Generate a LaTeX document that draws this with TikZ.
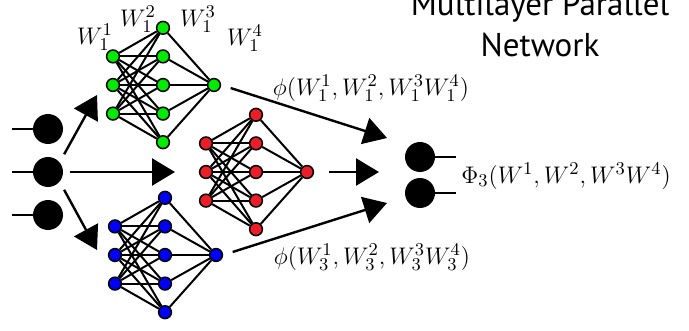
\documentclass[tikz,border=0pt]{standalone}
\usepackage{fontspec}
\newfontfamily\titlefont{PT Sans}
\usepackage{tikz}
\usetikzlibrary{arrows.meta,positioning}
\definecolor{nngreen}{RGB}{0,235,0}
\definecolor{nnred}{RGB}{235,30,40}
\definecolor{nnblue}{RGB}{0,0,245}

\begin{document}
\begin{tikzpicture}[
      x=0.5pt, y=-0.5pt,
      neuron/.style={circle, draw=black, line width=0.75pt, minimum size=6.4pt, inner sep=0pt},
      unit/.style={circle, fill=black, minimum size=15pt, inner sep=0pt},
      edge/.style={line width=1pt, black},
      stub/.style={line width=1.2pt, black},
      arrow/.style={-{Triangle[length=11.5pt,width=13.5pt]}, line width=1.2pt, black},
      lbl/.style={inner sep=0pt, font=\fontsize{12.5}{15}\selectfont},
    ]
    \useasboundingbox (0,0) rectangle (689,331);

    % the three small networks
    \foreach \n/\c/\x/\y in {g/nngreen/113/85, r/nnred/206/172, b/nnblue/115/255}{
      \foreach \i in {1,2,3}
        \node[neuron, fill=\c] (\n1-\i) at (\x, \y+28.6*\i-57.2) {};
      \foreach \j in {1,...,5}
        \node[neuron, fill=\c] (\n2-\j) at (\x+50, \y+28.6*\j-85.8) {};
      \node[neuron, fill=\c] (\n3) at (\x+101, \y) {};
      \foreach \i in {1,2,3}
        \foreach \j in {1,...,5}
          \draw[edge] (\n1-\i) -- (\n2-\j);
      \foreach \j in {1,...,5}
        \draw[edge] (\n2-\j) -- (\n3);
    }

    % inputs and outputs
    \foreach \i/\y in {1/129, 2/172, 3/215}{
      \node[unit] (in\i) at (48,\y) {};
      \coordinate (s\i) at (12,\y);
      \draw[stub] (s\i) -- (in\i);
    }
    \foreach \i/\y in {1/157, 2/193}{
      \node[unit] (out\i) at (420,\y) {};
      \coordinate (e\i) at (456,\y);
      \draw[stub] (out\i) -- (e\i);
    }

    \coordinate (tg) at (97,95);
    \coordinate (tr) at (175,172);
    \coordinate (tb) at (97,250);
    \coordinate (og) at (387,138);
    \coordinate (or) at (379,172);
    \coordinate (ob) at (387,203);

    \draw[arrow, shorten <=4.5pt] (in2.40) -- (tg);
    \draw[arrow, shorten <=3.5pt] (in2) -- (tr);
    \draw[arrow, shorten <=4.5pt] (in2.-40) -- (tb);
    \draw[arrow, shorten <=5pt] (g3.east) -- (og);
    \draw[arrow, shorten <=7.5pt] (r3.east) -- (or);
    \draw[arrow, shorten <=5pt] (b3.east) -- (ob);

    % labels
    \node[lbl] (w1) at (95,37) {$W_1^1$};
    \node[lbl] (w2) at (138,19) {$W_1^2$};
    \node[lbl] (w3) at (198,19) {$W_1^3$};
    \node[lbl] (w4) at (245,38) {$W_1^4$};
    \node[lbl] (phig) at (371,88) {$\phi(W_1^1,W_1^2,W_1^3W_1^4)$};
    \node[lbl] (phib) at (372,257) {$\phi(W_3^1,W_3^2,W_3^3W_3^4)$};
    \node[lbl, anchor=west, font=\fontsize{13}{15}\selectfont] (phiout) at (461,176)
      {$\Phi_3(W^1,W^2,W^3W^4)$};

    \node[inner sep=0pt, anchor=south, align=center,
          font=\titlefont\fontsize{16.5}{20.5}\selectfont] (title) at (540,57.5)
      {Multilayer Parallel\\Network};
  \end{tikzpicture}
\end{document}
